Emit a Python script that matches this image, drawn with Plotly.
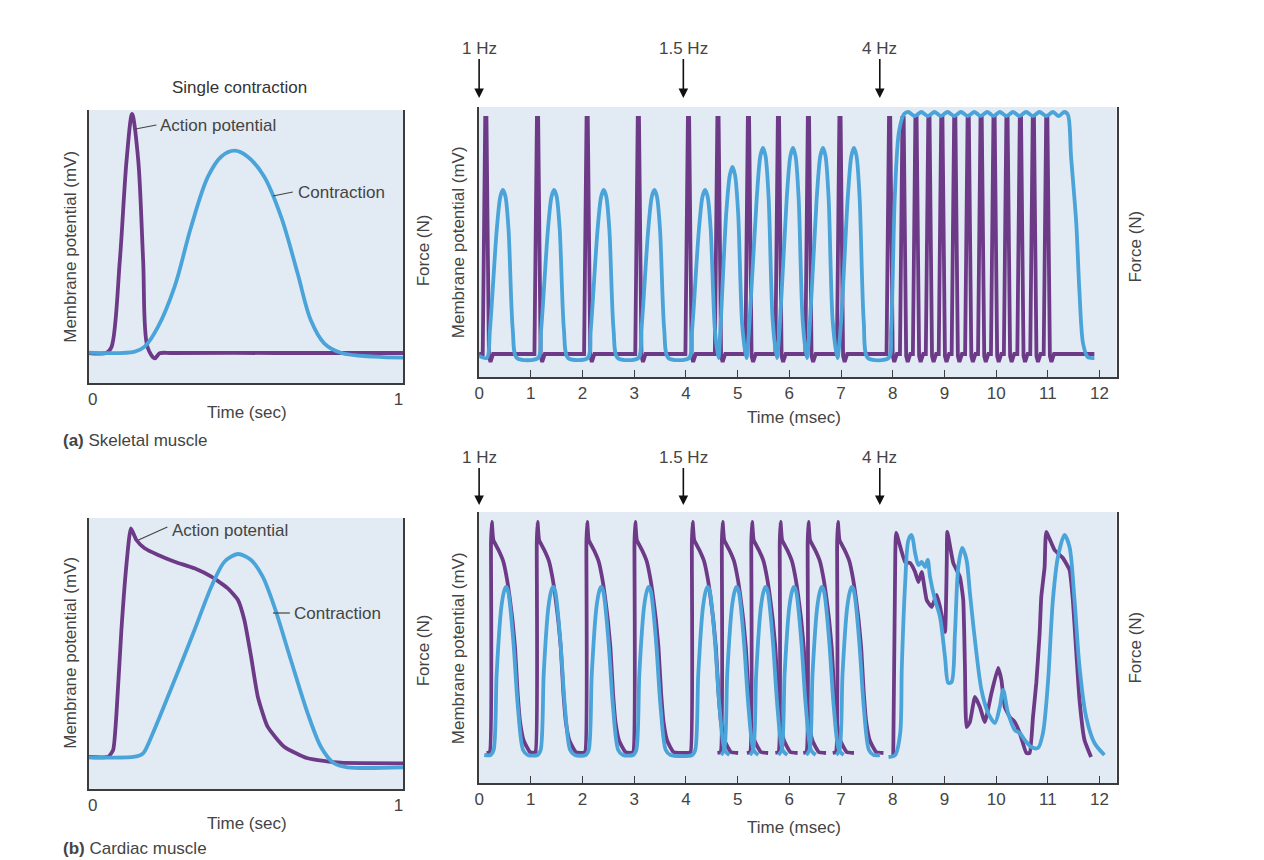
import plotly.graph_objects as go

W, H = 1264, 860
FONT = "Liberation Sans, Arial, sans-serif"
TXT = "#444444"
AX = "#3c3c3c"
PURPLE = "#6d3a87"
BLUE = "#4aa3d9"
BG = "#e2ebf3"
X_SHIFT = -3  # horizontal correction of the layout, in pixels

# ---------------- DATA ----------------
# (a) Skeletal muscle, single contraction  (time s, height in axis units 0..273)
skel_single_t_ap = [-0.013, 0.046, 0.062, 0.089, 0.111, 0.129, 0.149, 0.165, 0.179, 0.203, 0.219,
                    0.26, 0.60, 1.016]
skel_single_ap = [30, 30.3, 36.3, 123, 223, 269, 223, 123, 36.3, 24.7, 29.7, 30, 30, 30]
skel_single_t_f = [-0.013, 0.138, 0.170, 0.214, 0.268, 0.322, 0.377, 0.420, 0.464, 0.507, 0.561,
                   0.616, 0.670, 0.713, 0.757, 0.811, 0.920, 1.016]
skel_single_f = [30.3, 31.3, 36.3, 56.3, 96.3, 156.3, 206.3, 226.3, 232.3, 226.3, 206.3,
                 166.3, 109.7, 63, 39.7, 30.3, 26.3, 25.3]

# (b) Cardiac muscle, single contraction (height in axis units 0..271)
card_single_t_ap = [-0.013, 0.051, 0.067, 0.078, 0.094, 0.111, 0.125, 0.143, 0.170, 0.214, 0.268, 0.333,
                    0.388, 0.442, 0.475, 0.496, 0.518, 0.540, 0.572, 0.626, 0.703, 0.811, 1.016]
card_single_ap = [32, 32.3, 39, 76, 159, 226, 260.7, 249, 240.7, 234, 227.3, 220.7,
                  212.3, 200.7, 189, 169, 132.3, 92.3, 62.3, 42.3, 30.7, 26.3, 25.7]
card_single_t_f = [-0.013, 0.138, 0.165, 0.192, 0.268, 0.333, 0.388, 0.431, 0.475, 0.518, 0.556,
                   0.594, 0.648, 0.703, 0.746, 0.789, 0.833, 1.016]
card_single_f = [31.7, 32.3, 35.7, 52.3, 109, 159, 202.3, 227.3, 235, 229, 212.3,
                 182.3, 129, 75.7, 42.3, 25.7, 21.7, 21.7]

# Skeletal train: action potentials (time, height 0..270)
skel_train_t_ap = [
    0.00,
    0.07, 0.118, 0.142, 0.19, 0.22, 0.27,
    1.07, 1.118, 1.142, 1.19, 1.22, 1.27,
    2.03, 2.078, 2.102, 2.15, 2.18, 2.23,
    3.02, 3.068, 3.092, 3.14, 3.17, 3.22,
    3.99, 4.038, 4.062, 4.11, 4.14, 4.19,
    4.56, 4.608, 4.632, 4.68, 4.71, 4.76,
    5.15, 5.198, 5.222, 5.27, 5.30, 5.35,
    5.73, 5.778, 5.802, 5.85, 5.88, 5.93,
    6.31, 6.358, 6.382, 6.43, 6.46, 6.51,
    6.92, 6.968, 6.992, 7.04, 7.07, 7.12,
    7.88, 7.928, 7.952, 8.00, 8.03, 8.08,
    8.14, 8.188, 8.212, 8.26, 8.29, 8.34,
    8.39, 8.438, 8.462, 8.51, 8.54, 8.59,
    8.64, 8.688, 8.712, 8.76, 8.79, 8.84,
    8.89, 8.938, 8.962, 9.01, 9.04, 9.09,
    9.14, 9.188, 9.212, 9.26, 9.29, 9.34,
    9.40, 9.448, 9.472, 9.52, 9.55, 9.60,
    9.65, 9.698, 9.722, 9.77, 9.80, 9.85,
    9.90, 9.948, 9.972, 10.02, 10.05, 10.10,
    10.15, 10.198, 10.222, 10.27, 10.30, 10.35,
    10.41, 10.458, 10.482, 10.53, 10.56, 10.61,
    10.66, 10.708, 10.732, 10.78, 10.81, 10.86,
    10.92, 10.968, 10.992, 11.04, 11.07, 11.12,
    11.90]
skel_train_ap = [
    23,
    23, 259, 259, 21, 15, 23,
    23, 259, 259, 21, 15, 23,
    23, 259, 259, 21, 15, 23,
    23, 259, 259, 21, 15, 23,
    23, 259, 259, 21, 15, 23,
    23, 259, 259, 21, 15, 23,
    23, 259, 259, 21, 15, 23,
    23, 259, 259, 21, 15, 23,
    23, 259, 259, 21, 15, 23,
    23, 259, 259, 21, 15, 23,
    23, 259, 259, 21, 15, 23,
    23, 259, 259, 21, 15, 23,
    23, 259, 259, 21, 15, 23,
    23, 259, 259, 21, 15, 23,
    23, 259, 259, 21, 15, 23,
    23, 259, 259, 21, 15, 23,
    23, 259, 259, 21, 15, 23,
    23, 259, 259, 21, 15, 23,
    23, 259, 259, 21, 15, 23,
    23, 259, 259, 21, 15, 23,
    23, 259, 259, 21, 15, 23,
    23, 259, 259, 21, 15, 23,
    23, 259, 259, 21, 15, 23,
    23]

# Skeletal train: force
skel_train_t_f = [
    0.00, 0.15, 0.21, 0.34, 0.41, 0.46, 0.51, 0.57, 0.65, 0.73,
    1.14, 1.20, 1.33, 1.40, 1.45, 1.50, 1.56, 1.64, 1.72,
    2.10, 2.16, 2.29, 2.36, 2.41, 2.46, 2.52, 2.60, 2.68,
    3.08, 3.14, 3.27, 3.34, 3.39, 3.44, 3.50, 3.58, 3.66,
    4.06, 4.12, 4.25, 4.32, 4.37, 4.42, 4.48, 4.56, 4.63,
    4.67, 4.78, 4.85, 4.90, 4.95, 5.01, 5.09, 5.17,
    5.23, 5.37, 5.44, 5.49, 5.54, 5.60, 5.68, 5.76,
    5.82, 5.95, 6.02, 6.07, 6.12, 6.18, 6.26, 6.34,
    6.40, 6.53, 6.60, 6.65, 6.70, 6.76, 6.84, 6.93,
    7.00, 7.13, 7.20, 7.25, 7.30, 7.36, 7.44, 7.52,
    7.92, 7.97, 8.04, 8.12, 8.22, 8.30,
    8.43, 8.55, 8.68, 8.81, 8.93, 9.06, 9.19, 9.32, 9.45, 9.58, 9.70, 9.83,
    9.95, 10.07, 10.20, 10.33, 10.45, 10.58, 10.71, 10.84, 10.97, 11.10, 11.21, 11.32,
    11.39, 11.45, 11.55, 11.61, 11.68, 11.77, 11.90]
skel_train_f = [
    21, 19, 47.6, 146.7, 180.3, 187, 180.3, 146.7, 47.6, 19,
    19, 47.6, 146.7, 180.3, 187, 180.3, 146.7, 47.6, 19,
    19, 47.6, 146.7, 180.3, 187, 180.3, 146.7, 47.6, 19,
    19, 47.6, 146.7, 180.3, 187, 180.3, 146.7, 47.6, 19,
    19, 47.6, 146.7, 180.3, 187, 180.3, 146.7, 47.6, 19,
    51, 164, 202, 210, 202, 164, 51, 19,
    55, 179, 221, 229, 221, 179, 55, 19,
    55, 179, 221, 229, 221, 179, 55, 19,
    55, 179, 221, 229, 221, 179, 55, 19,
    55, 179, 221, 229, 221, 179, 55, 19,
    19, 47, 180, 245, 263, 265,
    261, 265, 261, 265, 261, 265, 261, 265, 261, 265, 261, 265,
    261, 265, 261, 265, 261, 265, 261, 265, 261, 265, 261, 265,
    262, 220, 154, 87, 34, 20, 19]

# Cardiac train: action potentials (None separates drawn pieces)
card_train_t_ap = [
    0.145, 0.205, 0.23, 0.245, 0.275, 0.375, 0.465, 0.535, 0.585, 0.645, 0.695, 0.745, 0.795, 0.865, 0.985, 1.125, None,
    1.03, 1.09, 1.115, 1.13, 1.16, 1.26, 1.35, 1.42, 1.47, 1.53, 1.58, 1.63, 1.68, 1.75, 1.87, 2.01, None,
    1.99, 2.05, 2.075, 2.09, 2.12, 2.22, 2.31, 2.38, 2.43, 2.49, 2.54, 2.59, 2.64, 2.71, 2.83, 2.97, None,
    2.92, 2.98, 3.005, 3.02, 3.05, 3.15, 3.24, 3.31, 3.36, 3.42, 3.47, 3.52, 3.57, 3.64, 3.76, 4.05, None,
    4.03, 4.09, 4.115, 4.13, 4.16, 4.26, 4.35, 4.42, 4.47, 4.53, 4.58, 4.63, 4.68, 4.75, 4.87, 5.01, None,
    4.61, 4.67, 4.695, 4.71, 4.74, 4.84, 4.93, 5.00, 5.05, 5.11, 5.16, 5.21, 5.26, 5.33, 5.45, 5.59, None,
    5.18, 5.24, 5.265, 5.28, 5.31, 5.41, 5.50, 5.57, 5.62, 5.68, 5.73, 5.78, 5.83, 5.90, 6.02, 6.16, None,
    5.73, 5.79, 5.815, 5.83, 5.86, 5.96, 6.05, 6.12, 6.17, 6.23, 6.28, 6.33, 6.38, 6.45, 6.57, 6.71, None,
    6.27, 6.33, 6.355, 6.37, 6.40, 6.50, 6.59, 6.66, 6.71, 6.77, 6.82, 6.87, 6.92, 6.99, 7.11, 7.25, None,
    6.84, 6.90, 6.925, 6.94, 6.97, 7.07, 7.16, 7.23, 7.28, 7.34, 7.39, 7.44, 7.49, 7.56, 7.68, 7.82, None,
    8.01, 8.05, 8.067, 8.24, 8.337, 8.433, 8.497, 8.561, 8.657, 8.754, 8.850, 8.915, 9.011, 9.045, 9.056,
    9.171, 9.300, 9.364, 9.397, 9.428, 9.493, 9.590, 9.686, 9.782, 9.910, 10.039, 10.102, 10.167, 10.264,
    10.360, 10.457, 10.584, 10.649, 10.713, 10.777, 10.842, 10.873, 10.938, 10.969, 11.131, 11.291, 11.420,
    11.484, 11.547, 11.613, 11.709, 11.836]
card_train_ap = [
    30, 31, 240, 261, 243, 233, 222, 205, 188, 163, 135, 90, 60, 42, 31, 30, None,
    30, 31, 240, 261, 243, 233, 222, 205, 188, 163, 135, 90, 60, 42, 31, 30, None,
    30, 31, 240, 261, 243, 233, 222, 205, 188, 163, 135, 90, 60, 42, 31, 30, None,
    30, 31, 240, 261, 243, 233, 222, 205, 188, 163, 135, 90, 60, 42, 31, 30, None,
    30, 31, 240, 261, 243, 233, 222, 205, 188, 163, 135, 90, 60, 42, 31, 30, None,
    30, 31, 240, 261, 243, 233, 222, 205, 188, 163, 135, 90, 60, 42, 31, 30, None,
    30, 31, 240, 261, 243, 233, 222, 205, 188, 163, 135, 90, 60, 42, 31, 30, None,
    30, 31, 240, 261, 243, 233, 222, 205, 188, 163, 135, 90, 60, 42, 31, 30, None,
    30, 31, 240, 261, 243, 233, 222, 205, 188, 163, 135, 90, 60, 42, 31, 30, None,
    30, 31, 240, 261, 243, 233, 222, 205, 188, 163, 135, 90, 60, 42, 31, 30, None,
    27, 230, 250, 221, 220, 211, 201, 211, 183, 176, 188, 176, 151, 220, 251,
    220, 206, 183, 116, 56, 61, 86, 76, 61, 90, 115, 103, 76, 66,
    61, 50, 30, 30, 66, 100, 150, 186, 216, 251, 233, 225, 213,
    183, 133, 83, 43, 26]

# Cardiac train: force
card_train_t_f = [
    0.10,
    0.22, 0.28, 0.34, 0.43, 0.49, 0.52, 0.56, 0.66, 0.75, 0.85, 0.94,
    1.13, 1.19, 1.25, 1.34, 1.40, 1.43, 1.47, 1.57, 1.66, 1.76, 1.85,
    2.06, 2.12, 2.18, 2.27, 2.33, 2.36, 2.40, 2.50, 2.59, 2.69, 2.78,
    2.98, 3.04, 3.10, 3.19, 3.25, 3.28, 3.32, 3.42, 3.51, 3.61, 3.70,
    4.12, 4.18, 4.24, 4.33, 4.39, 4.42, 4.46, 4.56, 4.65, 4.75, 4.84, None,
    4.68, 4.74, 4.80, 4.89, 4.95, 4.98, 5.02, 5.12, 5.21, 5.31, 5.40, None,
    5.24, 5.30, 5.36, 5.45, 5.51, 5.54, 5.58, 5.68, 5.77, 5.87, 5.96, None,
    5.79, 5.85, 5.91, 6.00, 6.06, 6.09, 6.13, 6.23, 6.32, 6.42, 6.51, None,
    6.33, 6.39, 6.45, 6.54, 6.60, 6.63, 6.67, 6.77, 6.86, 6.96, 7.05, None,
    6.91, 6.97, 7.03, 7.12, 7.18, 7.21, 7.25, 7.35, 7.44, 7.54, 7.63, 7.75, None,
    7.919, 8.048, 8.145, 8.176, 8.241, 8.304, 8.368, 8.433, 8.497, 8.561, 8.626, 8.677, 8.722, 8.819,
    8.915, 9.011, 9.075, 9.139, 9.204, 9.268, 9.345, 9.428, 9.493, 9.590, 9.717, 9.846, 9.975, 10.071,
    10.135, 10.231, 10.360, 10.457, 10.553, 10.680, 10.809, 10.906, 11.002, 11.098, 11.195, 11.323,
    11.420, 11.516, 11.613, 11.741, 11.902, 12.094]
card_train_f = [
    28,
    28, 33, 110, 176, 193, 196, 192, 143, 76, 33, 28,
    28, 33, 110, 176, 193, 196, 192, 143, 76, 33, 28,
    28, 33, 110, 176, 193, 196, 192, 143, 76, 33, 28,
    28, 33, 110, 176, 193, 196, 192, 143, 76, 33, 28,
    28, 33, 110, 176, 193, 196, 192, 143, 76, 33, 28, None,
    28, 33, 110, 176, 193, 196, 192, 143, 76, 33, 28, None,
    28, 33, 110, 176, 193, 196, 192, 143, 76, 33, 28, None,
    28, 33, 110, 176, 193, 196, 192, 143, 76, 33, 28, None,
    28, 33, 110, 176, 193, 196, 192, 143, 76, 33, 28, None,
    28, 33, 110, 176, 193, 196, 192, 143, 76, 33, 28, 28, None,
    26, 28, 50, 116, 200, 243, 248, 230, 218, 221, 216, 223, 206, 183,
    166, 126, 100, 101, 150, 216, 235, 223, 190, 143, 93, 70, 60, 76,
    93, 70, 53, 50, 43, 36, 35, 50, 100, 183, 226, 248,
    236, 183, 116, 66, 40, 28]

# stimulation markers and tick labels
stim_times = [0, 3.95, 7.75]
stim_labels = ["1 Hz", "1.5 Hz", "4 Hz"]
train_ticks = [0, 1, 2, 3, 4, 5, 6, 7, 8, 9, 10, 11, 12]
single_ticks = [0, 1]

for a, b in [(skel_single_t_ap, skel_single_ap), (skel_single_t_f, skel_single_f),
             (card_single_t_ap, card_single_ap), (card_single_t_f, card_single_f),
             (skel_train_t_ap, skel_train_ap), (skel_train_t_f, skel_train_f),
             (card_train_t_ap, card_train_ap), (card_train_t_f, card_train_f)]:
    assert len(a) == len(b), (len(a), len(b))

# ---------------- FIGURE ----------------
def px(x):
    return (x + X_SHIFT) / W

def py(y):
    return 1 - y / H

fig = go.Figure()

def line(x, y, xa, ya, color, shape="linear", smooth=1.0, width=3.8):
    kw = dict(shape=shape, color=color, width=width)
    if shape == "spline":
        kw["smoothing"] = smooth
    fig.add_trace(go.Scatter(x=x, y=y, xaxis=xa, yaxis=ya, mode="lines", line=kw,
                             connectgaps=False, hoverinfo="skip", showlegend=False))

# top-left
line(skel_single_t_ap, skel_single_ap, "x", "y", PURPLE, "spline", 0.9)
line(skel_single_t_f, skel_single_f, "x", "y", BLUE, "spline", 1.0)
# top-right
line(skel_train_t_ap, skel_train_ap, "x2", "y2", PURPLE, "linear")
line(skel_train_t_f, skel_train_f, "x2", "y2", BLUE, "spline", 0.8)
# bottom-left
line(card_single_t_ap, card_single_ap, "x3", "y3", PURPLE, "spline", 0.5)
line(card_single_t_f, card_single_f, "x3", "y3", BLUE, "spline", 0.8)
# bottom-right
line(card_train_t_ap, card_train_ap, "x4", "y4", PURPLE, "spline", 0.4)
line(card_train_t_f, card_train_f, "x4", "y4", BLUE, "spline", 0.8)

def xaxis(dom, rng, tickvals, ticks, anchor):
    return dict(domain=dom, range=rng, tickvals=tickvals, ticktext=[str(v) for v in tickvals],
                showline=True, linecolor=AX, linewidth=1.6, mirror=False,
                ticks=ticks, ticklen=7, tickwidth=1.3, tickcolor=AX,
                showgrid=False, zeroline=False, anchor=anchor,
                tickfont=dict(size=17, color=TXT, family=FONT), fixedrange=True)

def yaxis(dom, rng, anchor):
    return dict(domain=dom, range=rng, showline=True, linecolor=AX, linewidth=1.6, mirror=True,
                showticklabels=False, ticks="", showgrid=False, zeroline=False, anchor=anchor,
                fixedrange=True)

L_X = [px(87), px(403)]
R_X = [px(479), px(1119)]

fig.update_layout(
    width=W, height=H, margin=dict(l=0, r=0, t=0, b=0),
    paper_bgcolor="white", plot_bgcolor=BG, showlegend=False,
    font=dict(family=FONT, color=TXT, size=17),
    xaxis=xaxis(L_X, [-0.013, 1.016], single_ticks, "", "y"),
    yaxis=yaxis([py(383), py(110)], [0, 273], "x"),
    xaxis2=xaxis(R_X, [0, 12.33], train_ticks, "inside", "y2"),
    yaxis2=yaxis([py(377), py(107)], [0, 270], "x2"),
    xaxis3=xaxis(L_X, [-0.013, 1.016], single_ticks, "", "y3"),
    yaxis3=yaxis([py(789), py(518)], [0, 271], "x3"),
    xaxis4=xaxis(R_X, [0, 12.33], train_ticks, "inside", "y4"),
    yaxis4=yaxis([py(783), py(512)], [0, 271], "x4"),
)

ann = []

def txt(x, y, s, angle=0, xanchor="center", size=17, color=TXT):
    ann.append(dict(x=px(x), y=py(y), xref="paper", yref="paper", text=s, showarrow=False,
                    font=dict(size=size, color=color, family=FONT), xanchor=xanchor,
                    yanchor="middle", textangle=angle))

# top-left texts
txt(238, 87, "Single contraction", color="#333333")
txt(157, 125, "Action potential", xanchor="left")
txt(295, 192, "Contraction", xanchor="left")
txt(68, 247, "Membrane potential (mV)", angle=-90)
txt(423, 250, "Force (N)", angle=-90)
txt(246, 413, "Time (sec)")
txt(59, 440, "<b>(a)</b> Skeletal muscle", xanchor="left")
# top-right texts
txt(458, 242, "Membrane potential (mV)", angle=-90)
txt(1137, 247, "Force (N)", angle=-90)
txt(795, 418, "Time (msec)")
# bottom-left texts
txt(169, 530, "Action potential", xanchor="left")
txt(291, 613, "Contraction", xanchor="left")
txt(68, 653, "Membrane potential (mV)", angle=-90)
txt(423, 650, "Force (N)", angle=-90)
txt(246, 823, "Time (sec)")
txt(59, 848, "<b>(b)</b> Cardiac muscle", xanchor="left")
# bottom-right texts
txt(458, 648, "Membrane potential (mV)", angle=-90)
txt(1137, 648, "Force (N)", angle=-90)
txt(795, 827, "Time (msec)")

# stimulation arrows
for xref, head, off in [("x2", 98, -50), ("x4", 505, -48)]:
    for t, lab in zip(stim_times, stim_labels):
        ann.append(dict(x=t, xref=xref, y=py(head), yref="paper", text=lab, showarrow=True,
                        arrowhead=2, arrowsize=1.2, arrowwidth=1.6, arrowcolor="#111111",
                        ax=0, ay=off, standoff=0,
                        font=dict(size=17, color=TXT, family=FONT)))

fig.update_layout(annotations=ann)

# leader lines for the curve labels
shapes = []
for (x0, y0, x1, y1) in [(134, 129, 155, 125), (272, 196, 292, 192),
                         (137, 540, 166, 527), (272, 613, 289, 613)]:
    shapes.append(dict(type="line", xref="paper", yref="paper", x0=px(x0), y0=py(y0),
                       x1=px(x1), y1=py(y1), line=dict(color="#444444", width=1.2)))
fig.update_layout(shapes=shapes)

fig.write_html("out.html")
